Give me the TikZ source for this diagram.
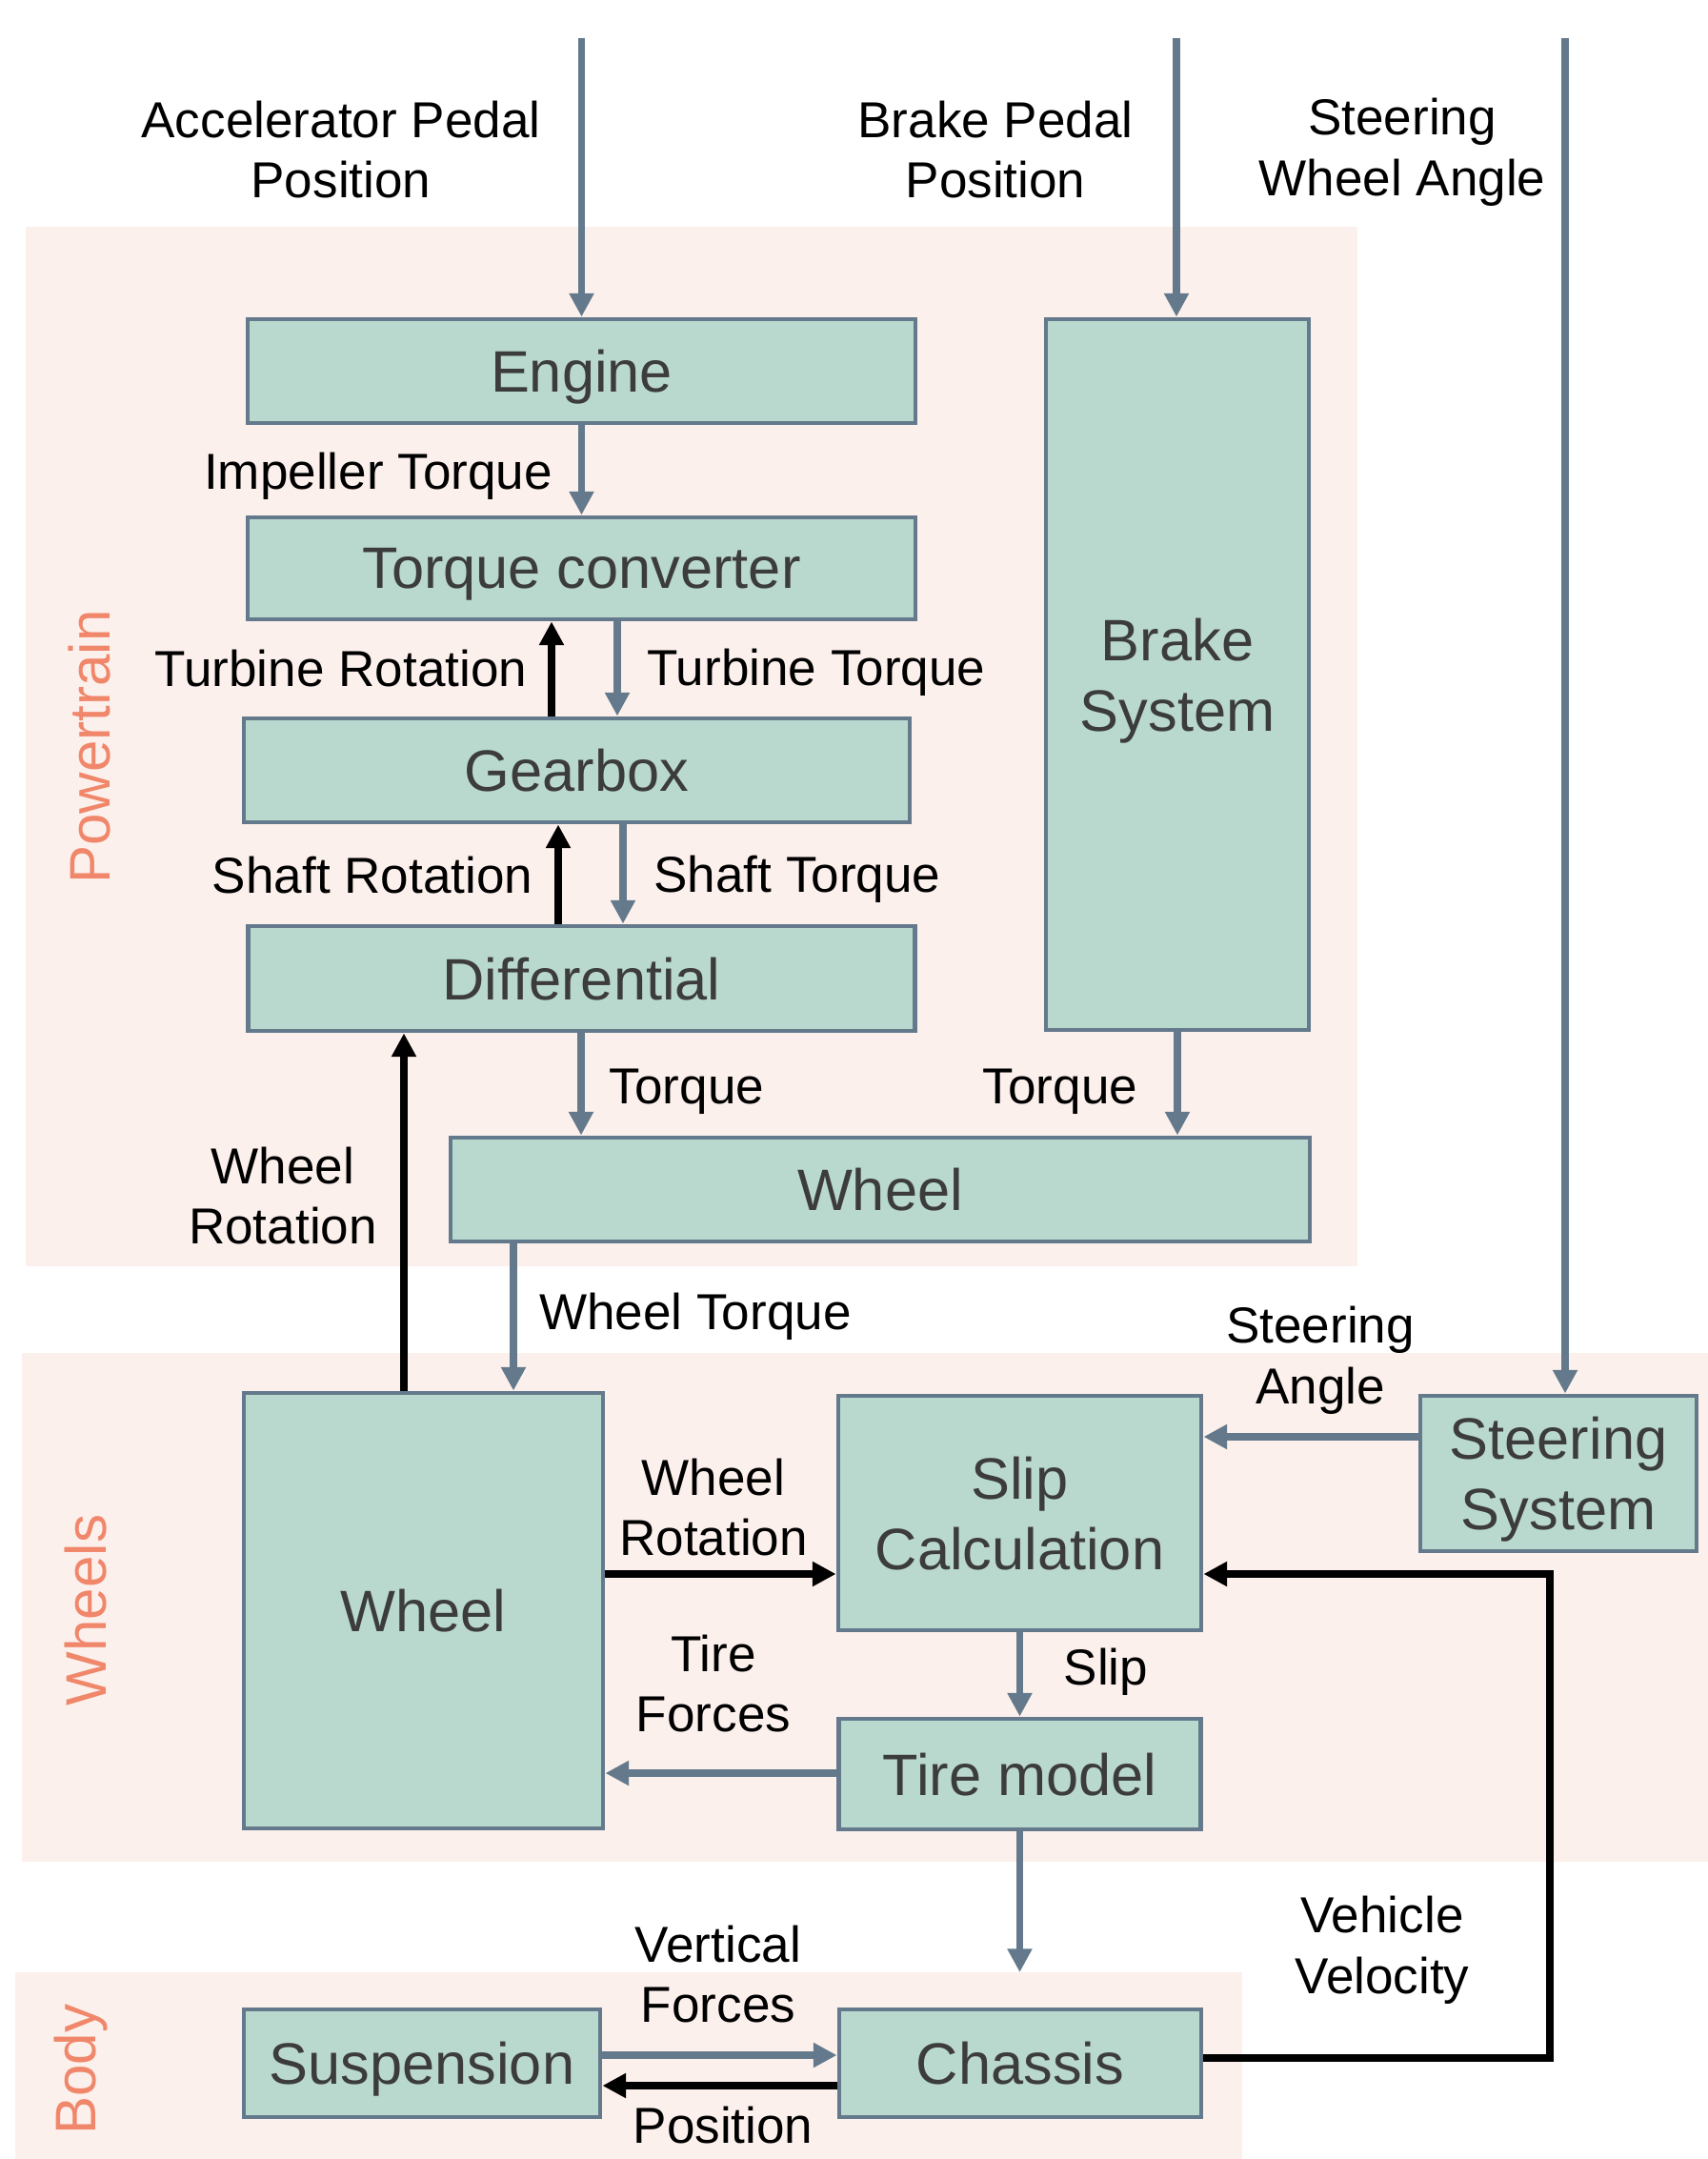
\documentclass[tikz,border=0pt]{standalone}
\usepackage{fontspec}
\setmainfont{Liberation Sans}
\usepackage{tikz}
\usetikzlibrary{arrows.meta}
\definecolor{boxfill}{HTML}{B9D8CE}
\definecolor{linegray}{HTML}{647A8C}
\definecolor{bandpink}{HTML}{FCF0EC}
\definecolor{salmon}{HTML}{F0876B}
\definecolor{boxtext}{HTML}{3C3C3C}
\newcommand{\boxtxt}{\fontsize{17.45}{21}\selectfont}
\newcommand{\lbltxt}{\fontsize{15.1}{18.1}\selectfont}
\newcommand{\grptxt}{\fontsize{17.1}{20}\selectfont}
\tikzset{
  blk/.style={draw=linegray,fill=boxfill,line width=1.4pt,text=boxtext,font=\boxtxt,align=center,inner sep=0pt,text depth=0pt},
  sig/.style={->,draw=linegray,line width=2.2pt},
  fb/.style={->,draw=black,line width=2.2pt},
  lbl/.style={font=\lbltxt,align=center,inner sep=0pt},
  grp/.style={rotate=90,text=salmon,font=\grptxt,inner sep=0pt}
}

\begin{document}
\begin{tikzpicture}[>={Triangle[length=7pt,width=7pt]}]
\useasboundingbox (0,0) rectangle (17.93,-22.66);
\fill[bandpink] (0.27,-2.38) rectangle (14.25,-13.29);
\fill[bandpink] (0.23,-14.20) rectangle (17.93,-19.54);
\fill[bandpink] (0.16,-20.70) rectangle (13.04,-22.66);
\node(p) at (0.94,-7.84)[grp] {Powertrain};
\node(w) at (0.90,-16.90)[grp] {Wheels};
\node(b) at (0.845,-21.72)[grp] {Body};

\node(1) at (6.105,-3.895)[blk,minimum width=7.01cm,minimum height=1.09cm] {Engine};
\node(2) at (6.105,-5.965)[blk,minimum width=7.01cm,minimum height=1.07cm] {Torque converter};
\node(3) at (6.055,-8.085)[blk,minimum width=6.99cm,minimum height=1.09cm] {Gearbox};
\node(4) at (6.105,-10.27)[blk,minimum width=7.00cm,minimum height=1.10cm] {Differential};
\node(5) at (12.36,-7.08)[blk,minimum width=2.76cm,minimum height=7.46cm] {Brake\\System};
\node(6) at (9.24,-12.485)[blk,minimum width=9.02cm,minimum height=1.09cm] {Wheel};
\node(7) at (4.445,-16.905)[blk,minimum width=3.77cm,minimum height=4.57cm] {Wheel};
\node(8) at (10.705,-15.88)[blk,minimum width=3.81cm,minimum height=2.46cm] {Slip\\Calculation};
\node(9) at (16.36,-15.465)[blk,minimum width=2.90cm,minimum height=1.63cm] {Steering\\System};
\node(10) at (10.705,-18.62)[blk,minimum width=3.80cm,minimum height=1.16cm] {Tire model};
\node(11) at (4.43,-21.655)[blk,minimum width=3.74cm,minimum height=1.13cm] {Suspension};
\node(12) at (10.71,-21.655)[blk,minimum width=3.80cm,minimum height=1.13cm] {Chassis};

\coordinate(a) at (6.105,-0.40);
\coordinate(c) at (12.35,-0.40);
\coordinate(d) at (16.43,-0.40);
\coordinate(e) at (10.705,-20.70);

\node at (3.58,-1.57)[lbl] {Accelerator Pedal\\Position};
\node at (10.45,-1.57)[lbl] {Brake Pedal\\Position};
\node at (14.72,-1.595)[lbl] {Steering\\Wheel Angle};
\node at (3.97,-5.00)[lbl] {Impeller Torque};
\node at (3.58,-7.02)[lbl] {Turbine Rotation};
\node at (8.57,-7.06)[lbl] {Turbine Torque};
\node at (3.91,-9.19)[lbl] {Shaft Rotation};
\node at (8.37,-9.23)[lbl] {Shaft Torque};
\node at (7.21,-11.46)[lbl] {Torque};
\node at (11.13,-11.46)[lbl] {Torque};
\node at (2.97,-12.55)[lbl] {Wheel\\Rotation};
\node at (7.30,-13.815)[lbl] {Wheel Torque};
\node at (13.86,-14.28)[lbl] {Steering\\Angle};
\node at (7.49,-15.82)[lbl] {Wheel\\Rotation};
\node at (7.49,-17.67)[lbl] {Tire\\Forces};
\node at (11.61,-17.55)[lbl] {Slip};
\node at (14.51,-20.47)[lbl] {Vehicle\\Velocity};
\node at (7.54,-20.72)[lbl] {Vertical\\Forces};
\node at (7.59,-22.31)[lbl] {Position};

\draw[sig] (a) -- (1.north);
\draw[sig] (c) -- (c |- 5.north);
\draw[sig] (d) -- (d |- 9.north);
\draw[sig] (1) -- (2);
\draw[fb] (5.79,0 |- 3.north) -- (5.79,0 |- 2.south);
\draw[sig] (6.48,0 |- 2.south) -- (6.48,0 |- 3.north);
\draw[fb] (5.86,0 |- 4.north) -- (5.86,0 |- 3.south);
\draw[sig] (6.54,0 |- 3.south) -- (6.54,0 |- 4.north);
\draw[sig] (6.10,0 |- 4.south) -- (6.10,0 |- 6.north);
\draw[sig] (5.south) -- (5.south |- 6.north);
\draw[fb] (4.24,0 |- 7.north) -- (4.24,0 |- 4.south);
\draw[sig] (5.39,0 |- 6.south) -- (5.39,0 |- 7.north);
\draw[fb] (7.east |- 0,-16.52) -- (8.west |- 0,-16.52);
\draw[sig] (10.west |- 0,-18.61) -- (7.east |- 0,-18.61);
\draw[sig] (8) -- (10);
\draw[sig] (9.west |- 0,-15.08) -- (8.east |- 0,-15.08);
\draw[sig] (10) -- (e);
\draw[sig] (11.east |- 0,-21.57) -- (12.west |- 0,-21.57);
\draw[fb] (12.west |- 0,-21.89) -- (11.east |- 0,-21.89);
\draw[fb] (12.east |- 0,-21.60) -- (16.27,-21.60) |- (8.east |- 0,-16.52);
\end{tikzpicture}
\end{document}
